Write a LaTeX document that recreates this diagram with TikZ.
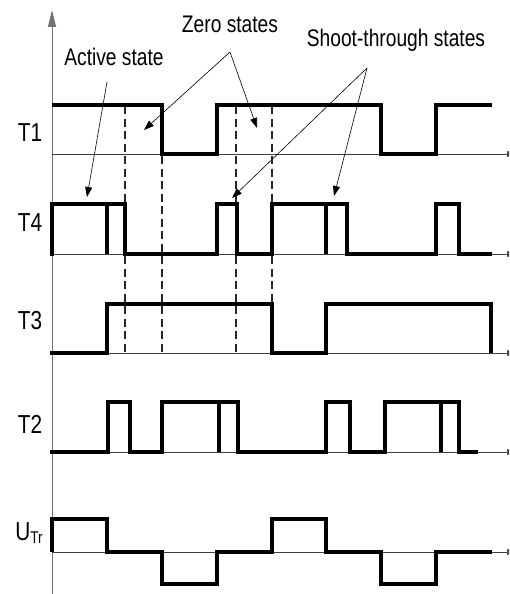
\documentclass[tikz,border=0pt]{standalone}
\usepackage{fontspec}
\setmainfont{Liberation Sans}[FakeStretch=0.8]
\usetikzlibrary{arrows.meta}

\tikzset{
  sig/.style={line width=3.6pt, line join=miter},
  base/.style={line width=0.7pt, black!75, -{Triangle[length=7pt,width=6pt]}},
  guide/.style={line width=1.2pt, dash pattern=on 8pt off 4.5pt, black!85},
  note/.style={line width=0.6pt, -{Triangle[length=10pt,width=7pt]}},
  lbl/.style={font=\fontsize{24}{26}\selectfont, inner sep=0pt},
  sname/.style={font=\fontsize{26}{28}\selectfont, inner sep=0pt}
}

\begin{document}
\begin{tikzpicture}[x=1pt, y=-1pt]

\useasboundingbox (0, 0) rectangle (509, 594);
\clip (0, 0) rectangle (509, 594);

% axes
\draw[line width=1pt, black!55, -{Triangle[length=17pt,width=8pt]}] (52, 594) -- (52, 10);
\foreach \y in {154, 254, 353, 452, 552}
\draw[base] (52, \y) -- (514, \y);

% dashed guides
\foreach \x in {125, 162, 236, 272}
\draw[guide] (\x, 106) -- (\x, 353);

% T1
\draw[sig] (52, 105) -- (162, 105) -- (162, 154) -- (217, 154) -- (217, 105)
  -- (381, 105) -- (381, 154) -- (436, 154) -- (436, 105) -- (492, 105);

% T4
\draw[sig] (50, 254) -- (52, 254) -- (52, 204) -- (125, 204) -- (125, 254)
  -- (217, 254) -- (217, 204) -- (237, 204) -- (237, 254) -- (272, 254)
  -- (272, 204) -- (347, 204) -- (347, 254) -- (436, 254) -- (436, 204)
  -- (459, 204) -- (459, 254) -- (492, 254);
\draw[sig] (107, 204) -- (107, 254);
\draw[sig] (326, 204) -- (326, 254);

% T3
\draw[sig] (50, 353) -- (107, 353) -- (107, 304) -- (272, 304) -- (272, 353)
  -- (326, 353) -- (326, 304) -- (491, 304) -- (491, 353);

% T2
\draw[sig] (50, 452) -- (108, 452) -- (108, 402) -- (130, 402) -- (130, 452)
  -- (162, 452) -- (162, 402) -- (238, 402) -- (238, 452) -- (326, 452)
  -- (326, 402) -- (350, 402) -- (350, 452) -- (385, 452) -- (385, 402)
  -- (459, 402) -- (459, 452) -- (478, 452);
\draw[sig] (219, 402) -- (219, 452);
\draw[sig] (441, 402) -- (441, 452);

% U_Tr
\draw[sig] (52, 552) -- (52, 519) -- (107, 519) -- (107, 552) -- (162, 552)
  -- (162, 584) -- (217, 584) -- (217, 552) -- (272, 552) -- (272, 519)
  -- (326, 519) -- (326, 552) -- (381, 552) -- (381, 584) -- (436, 584)
  -- (436, 552) -- (492, 552);

% signal names
\node[sname] (t1) at (30, 133) {T1};
\node[sname] (t4) at (30, 223) {T4};
\node[sname] (t3) at (30, 321) {T3};
\node[sname] (t2) at (30, 424) {T2};
\node[sname] (utr) at (29, 533) {U\raisebox{-3pt}{\fontsize{17}{18}\selectfont Tr}};

% state notes
\node[lbl] (active) at (114, 57) {Active state};
\node[lbl] (zero) at (230, 24) {Zero states};
\node[lbl] (shoot) at (396, 40) {Shoot-through states};

\coordinate (activeS) at (107, 82);
\coordinate (zeroS) at (230, 52);
\coordinate (shootS) at (367, 68);
\coordinate (activeE) at (87, 197);
\coordinate (zeroA) at (144, 130);
\coordinate (zeroB) at (257, 128);
\coordinate (shootA) at (232, 198);
\coordinate (shootB) at (334, 196);

\draw[note] (activeS) -- (activeE);
\draw[note] (zeroS) -- (zeroA);
\draw[note] (zeroS) -- (zeroB);
\draw[note] (shootS) -- (shootA);
\draw[note] (shootS) -- (shootB);

\end{tikzpicture}
\end{document}
